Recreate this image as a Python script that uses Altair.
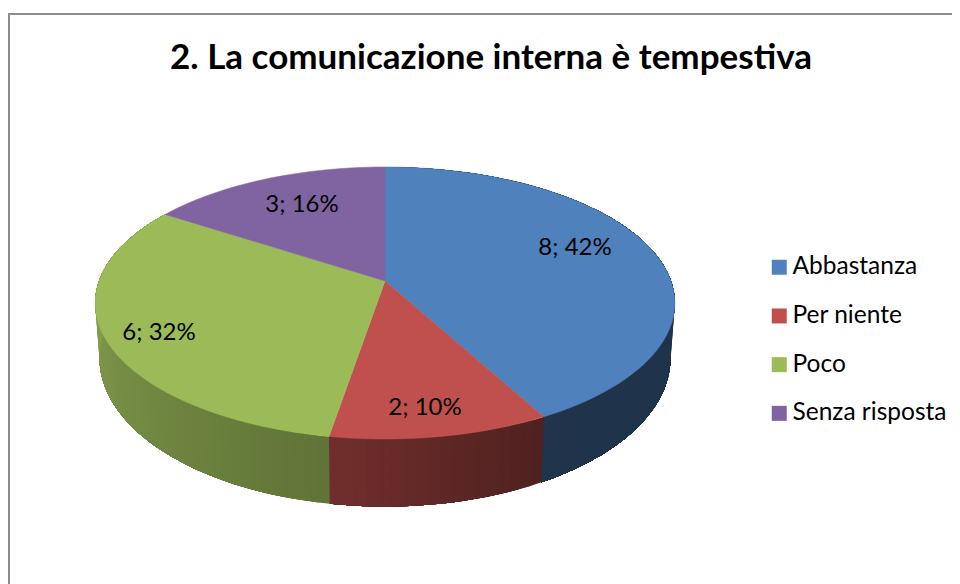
import math
import altair as alt

# ---- data ----
CATEGORIES = ["Abbastanza", "Per niente", "Poco", "Senza risposta"]
COUNTS = [8, 2, 6, 3]
PERCENTS = [42, 10, 32, 16]
TITLE = "2. La comunicazione interna è tempestiva"

# ---- style ----
COLORS = ["#4F81BD", "#C0504D", "#9BBB59", "#8064A2"]
FONT = "Lato"
FRAME = "#8c8c8c"
# brightness of the side wall at the start and end of each slice
WALL_SHADE = [(0.38, 0.40), (0.41, 0.59), (0.62, 0.95), (0.95, 0.95)]

# ---- layout: page pixels, perspective of the tilted disc ----
CX, APEX_Y = 385.0, 281.0
K, A, C = 286.0, 87.0, -0.1618
ELL_Y, LOW_Y, LOW_SY, LOW_SX = 303.0, 358.0, 1.092, 0.985
LABEL_XY = [(575, 248), (425, 408), (159, 333), (302, 205)]


def rim(deg):
    t = math.radians(deg)
    u, v = math.sin(t), -math.cos(t)
    d = 1 + C * v
    return CX + K * u / d, (A * v + APEX_Y) / d


def low(p):
    return CX + (p[0] - CX) * LOW_SX, LOW_Y + (p[1] - ELL_Y) * LOW_SY


def hex_scale(col, f):
    r, g, b = (int(col[i:i + 2], 16) for i in (1, 3, 5))
    return "#%02x%02x%02x" % (round(r * f), round(g * f), round(b * f))


total = sum(COUNTS)
walls, tops, labels = [], [], []
start = 0.0
for i, name in enumerate(CATEGORIES):
    end = start + 360.0 * COUNTS[i] / total
    n = max(2, int((end - start) / 2))
    angles = [start + (end - start) * j / n for j in range(n + 1)]
    ring = [[CX, APEX_Y]] + [list(rim(a)) for a in angles] + [[CX, APEX_Y]]
    tops.append({"type": "Feature", "properties": {"name": name},
                 "geometry": {"type": "Polygon", "coordinates": [ring]}})
    for j in range(n):
        if (angles[-1] < 75) or (angles[j] > 285):
            continue
        frac = (angles[j] - start) / (end - start)
        s0, s1 = WALL_SHADE[i]
        upper = [list(rim(a)) for a in angles[j:]]
        lower = [list(low(rim(a))) for a in reversed(angles[j:])]
        poly = upper + lower + [upper[0]]
        walls.append({"type": "Feature",
                      "properties": {"c": hex_scale(COLORS[i], s0 + (s1 - s0) * frac)},
                      "geometry": {"type": "Polygon", "coordinates": [poly]}})
    labels.append({"t": f"{COUNTS[i]}; {PERCENTS[i]}%",
                   "lon": LABEL_XY[i][0], "lat": LABEL_XY[i][1]})
    start = end

wall_layer = alt.Chart(alt.Data(values=walls)).mark_geoshape(strokeWidth=0).encode(
    fill=alt.Fill("properties.c:N", scale=None, legend=None),
)

top_layer = alt.Chart(alt.Data(values=tops)).mark_geoshape(strokeWidth=0.5).encode(
    fill=alt.Fill(
        "properties.name:N",
        scale=alt.Scale(domain=CATEGORIES, range=COLORS),
        legend=alt.Legend(
            title=None, orient="none", legendX=759, legendY=247,
            symbolType="square", symbolSize=225, symbolStrokeWidth=0,
            labelFont=FONT, labelFontSize=24.5, labelColor="#000000",
            labelOffset=1, rowPadding=23.7, padding=0, labelLimit=300,
        ),
    ),
    stroke=alt.Stroke("properties.name:N",
                      scale=alt.Scale(domain=CATEGORIES, range=COLORS), legend=None),
)

text_layer = alt.Chart(alt.Data(values=labels)).mark_text(
    font=FONT, fontSize=24, color="#000000", align="center", baseline="middle"
).encode(longitude="lon:Q", latitude="lat:Q", text="t:N")

frame_top = alt.Chart(alt.Data(values=[{"a": 0}])).mark_rule(color=FRAME, strokeWidth=2).encode(
    x=alt.value(1), x2=alt.value(944), y=alt.value(6))
frame_left = alt.Chart(alt.Data(values=[{"a": 0}])).mark_rule(color=FRAME, strokeWidth=2).encode(
    x=alt.value(1), y=alt.value(5), y2=alt.value(576))

chart = alt.layer(frame_top, frame_left, wall_layer, top_layer, text_layer).project(
    type="identity", scale=1, translate=[-8, -8]
).properties(
    width=944, height=576, padding=0,
    autosize=alt.AutoSizeParams(type="none"),
    title=alt.TitleParams(
        TITLE, font=FONT, fontWeight="bold", fontSize=35, color="#000000",
        anchor="middle", dx=11, dy=96, offset=0, baseline="alphabetic",
    ),
).configure_view(stroke=None).resolve_scale(fill="independent", stroke="independent")

chart.save("out.html", embed_options={"renderer": "svg", "actions": False})
